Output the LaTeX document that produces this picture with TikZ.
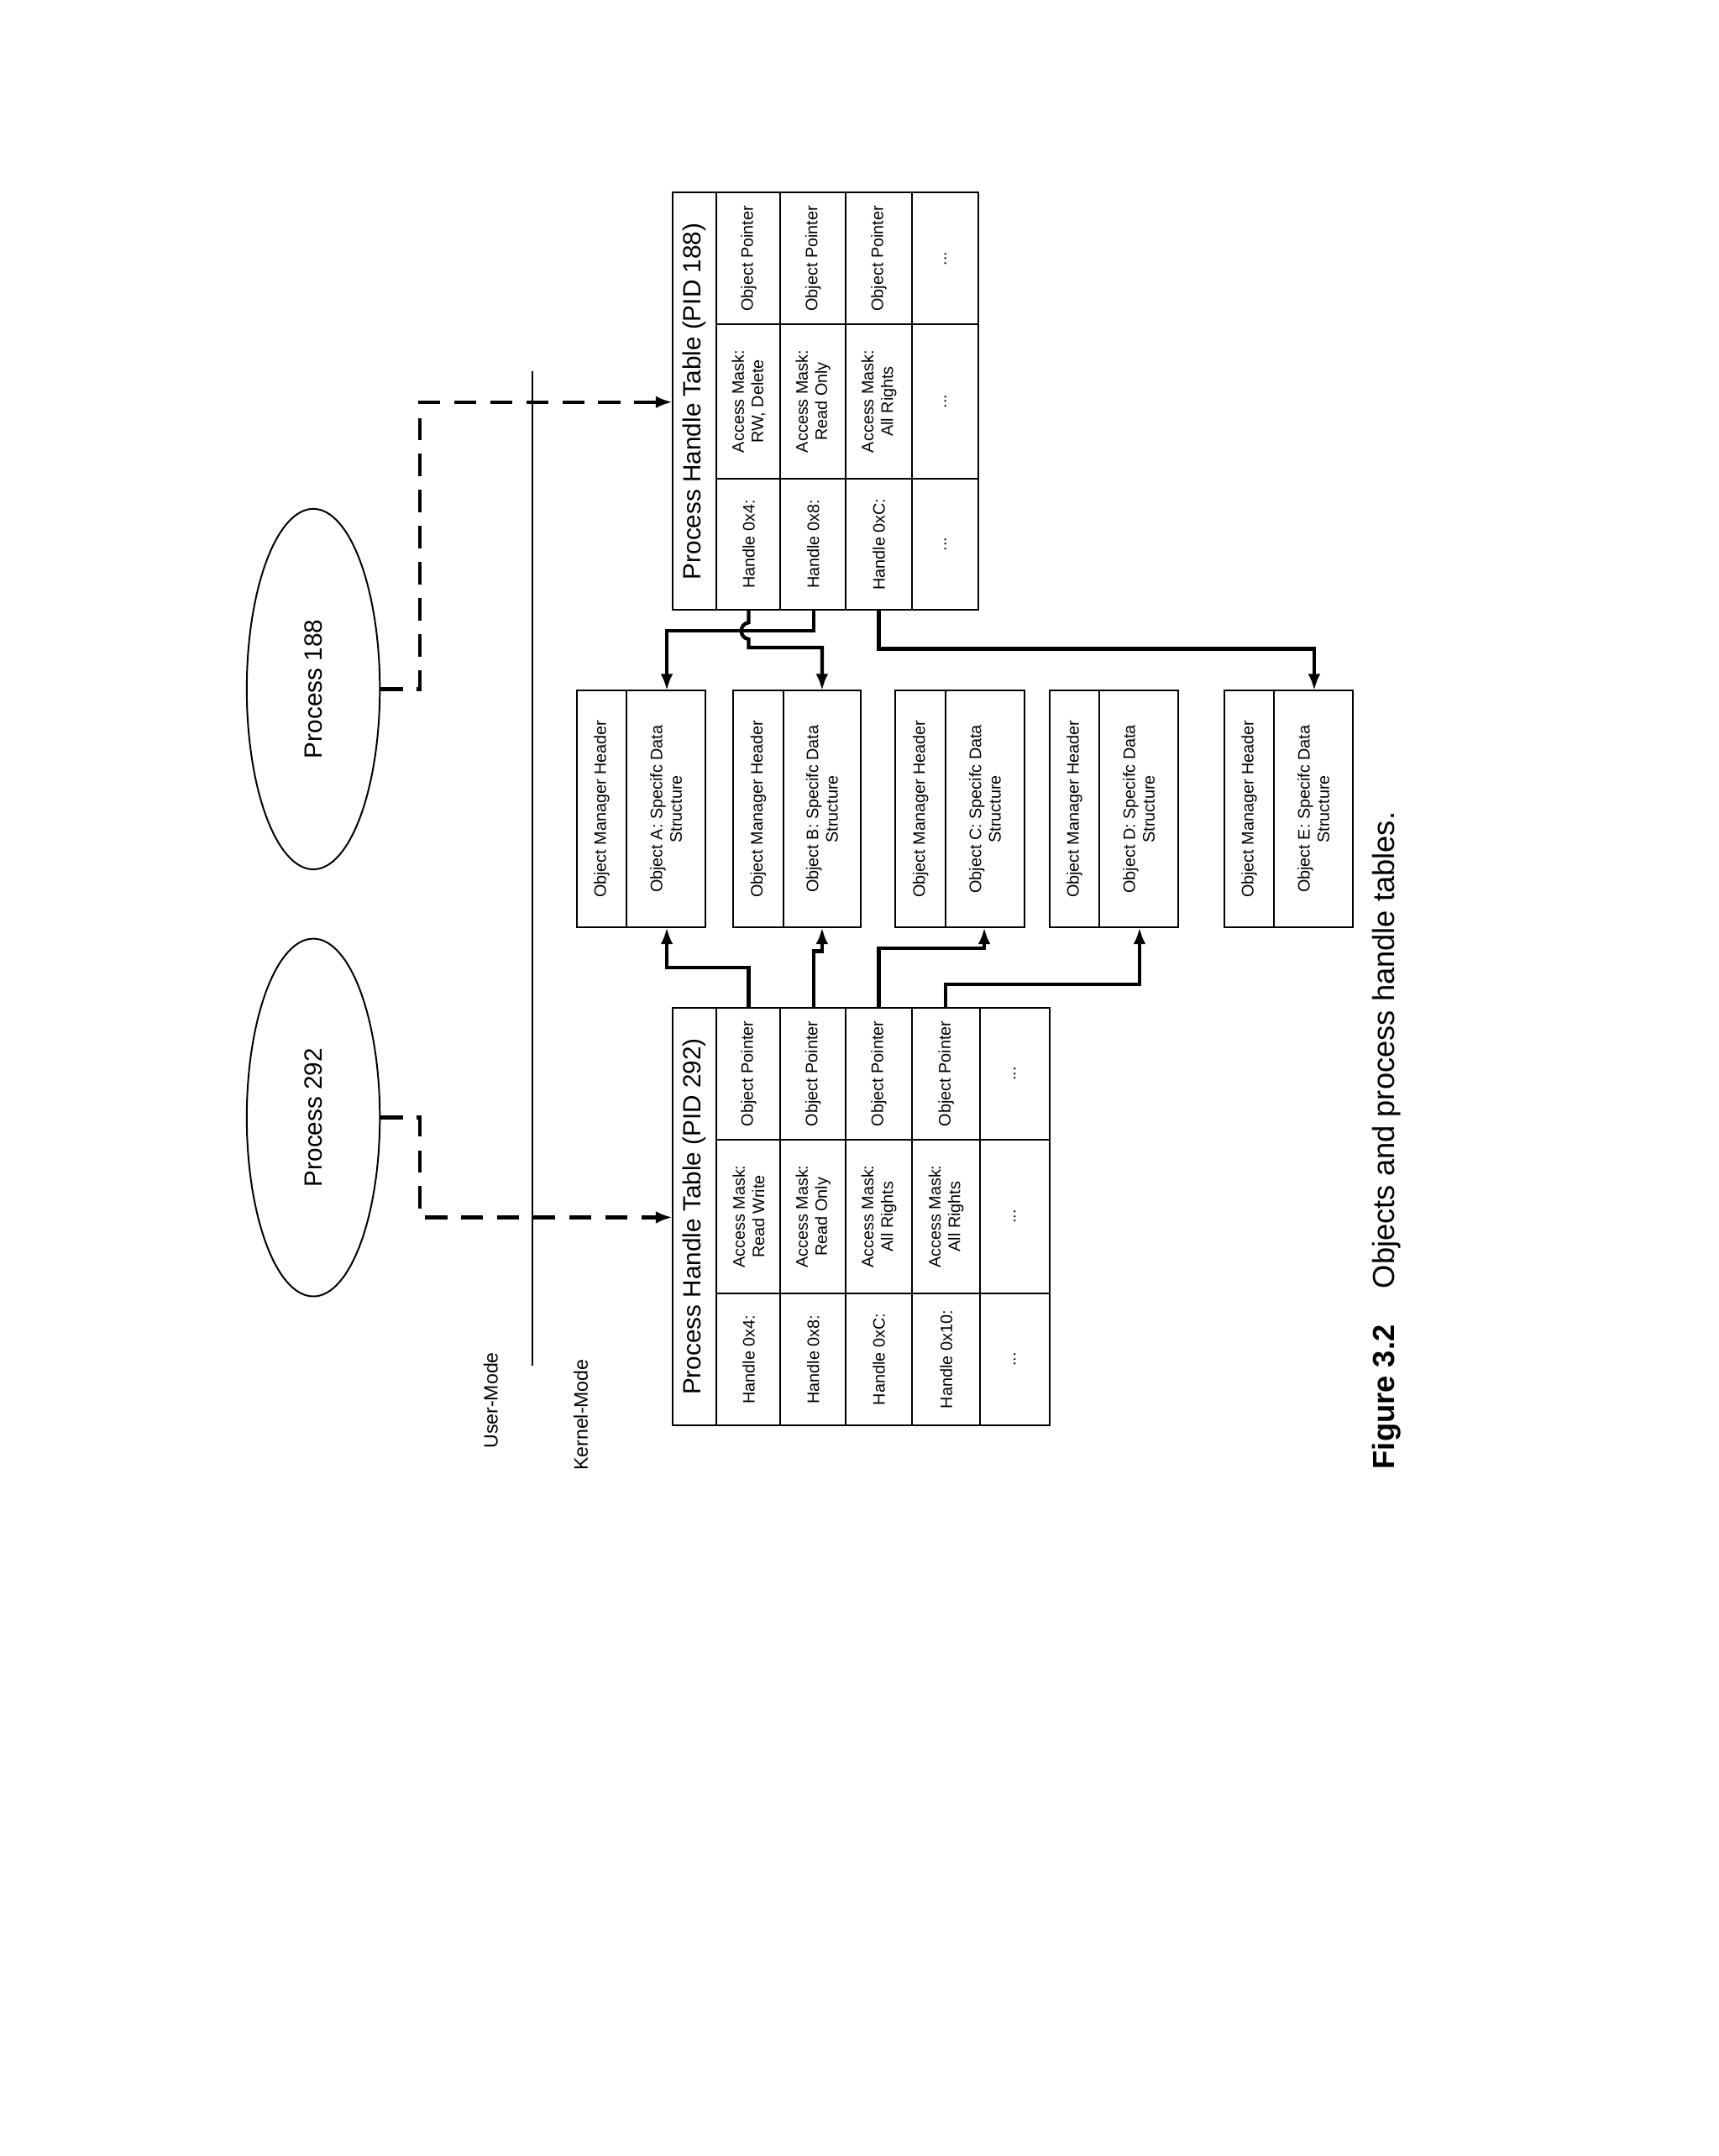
\documentclass[tikz,border=0pt]{standalone}
\usepackage{fontspec}
\setmainfont{Liberation Sans}
\usetikzlibrary{arrows.meta,shapes.geometric}
\begin{document}
\begin{tikzpicture}[x=0.5pt,y=-0.5pt,
  tbl/.style={line width=0.6pt},
  txt/.style={rotate=90,font=\fontsize{6}{7}\selectfont,align=center,inner sep=0},
  hdr/.style={rotate=90,font=\fontsize{9}{10}\selectfont,inner sep=0},
  conn/.style={line width=1.3pt,-{Latex[length=6pt,width=4.5pt]}},
  dashline/.style={line width=1.3pt,dash pattern=on 8pt off 5pt,-{Latex[length=6pt,width=4.5pt]}}]
\useasboundingbox (0,0) rectangle (1240,1555);

% Processes
\node[draw,tbl,ellipse,minimum width=48pt,minimum height=130pt,inner sep=0] (p188) at (226,497) {};
\node[hdr] at (226,497) {Process 188};
\node[draw,tbl,ellipse,minimum width=48pt,minimum height=129pt,inner sep=0] (p292) at (226,806) {};
\node[hdr] at (226,806) {Process 292};

% mode separator
\draw[tbl] (384,268) -- (384,985);
\node[txt,font=\fontsize{7}{8}\selectfont,anchor=east] (um) at (354,975) {User-Mode};
\node[txt,font=\fontsize{7}{8}\selectfont,anchor=east] (km) at (419,980) {Kernel-Mode};

% Table 188
\draw[tbl] (485,139) rectangle (706,440);
\foreach \x in {517,563,610,658} \draw[tbl] (\x,139)--(\x,440);
\draw[tbl] (517,234)--(706,234) (517,345)--(706,345);
\node[hdr] (t188) at (501,289.5) {Process Handle Table (PID 188)};
\node[txt] at (540,186.5) {Object Pointer};
\node[txt] at (586.5,186.5) {Object Pointer};
\node[txt] at (634,186.5) {Object Pointer};
\node[txt] at (682,186.5) {...};
\node[txt] at (540,289.5) {Access Mask:\\RW, Delete};
\node[txt] at (586.5,289.5) {Access Mask:\\Read Only};
\node[txt] at (634,289.5) {Access Mask:\\All Rights};
\node[txt] at (682,289.5) {...};
\node[txt] at (540,392.5) {Handle 0x4:};
\node[txt] at (586.5,392.5) {Handle 0x8:};
\node[txt] at (634,392.5) {Handle 0xC:};
\node[txt] at (682,392.5) {...};

% Table 292
\draw[tbl] (485,727) rectangle (757,1028);
\foreach \x in {517,563,610,658,707} \draw[tbl] (\x,727)--(\x,1028);
\draw[tbl] (517,822)--(757,822) (517,933)--(757,933);
\node[hdr] (t292) at (501,877.5) {Process Handle Table (PID 292)};
\node[txt] at (540,774.5) {Object Pointer};
\node[txt] at (586.5,774.5) {Object Pointer};
\node[txt] at (634,774.5) {Object Pointer};
\node[txt] at (682.5,774.5) {Object Pointer};
\node[txt] at (732,774.5) {...};
\node[txt] at (540,877.5) {Access Mask:\\Read Write};
\node[txt] at (586.5,877.5) {Access Mask:\\Read Only};
\node[txt] at (634,877.5) {Access Mask:\\All Rights};
\node[txt] at (682.5,877.5) {Access Mask:\\All Rights};
\node[txt] at (732,877.5) {...};
\node[txt] at (540,980.5) {Handle 0x4:};
\node[txt] at (586.5,980.5) {Handle 0x8:};
\node[txt] at (634,980.5) {Handle 0xC:};
\node[txt] at (682.5,980.5) {Handle 0x10:};
\node[txt] at (732,980.5) {...};

% Objects
\foreach \n/\a/\m/\b in {A/416/452/509,B/529/565/621,C/646/682/739,D/757/793/850,E/883/919/976}{
  \draw[tbl] (\a,498) rectangle (\b,669);
  \draw[tbl] (\m,498) -- (\m,669);
  \node[txt] at ({(\a+\m)/2},583.5) {Object Manager Header};
  \node[txt] at ({(\m+\b)/2},583.5) {Object \n: Specifc Data\\Structure};
}

% dashed process links
\draw[dashline] (p188.east) -| (303,290) -- (485,290);
\draw[dashline] (p292.east) -| (303,878) -- (485,878);

% 188 connectors
\draw[conn] (587,440) -- (587,455) -- (481,455) -- (481,498);
\draw[conn] (540,440) -- (540,449) .. controls (533,450) and (533,460) .. (540,461) -- (540,467) -- (593,467) -- (593,498);
\draw[conn] (634,440) -- (634,468) -- (948,468) -- (948,498);

% 292 connectors
\draw[conn] (540,727) -- (540,698) -- (481,698) -- (481,669);
\draw[conn] (587,727) -- (587,686) -- (593,686) -- (593,669);
\draw[conn] (634,727) -- (634,684) -- (710,684) -- (710,669);
\draw[conn] (682,727) -- (682,710) -- (822,710) -- (822,669);

% caption
\node[rotate=90,anchor=west,inner sep=0,font=\fontsize{11}{12}\selectfont] (cap) at (1000,1060)
  {\textbf{Figure 3.2}\hspace{1.2em}Objects and process handle tables.};
\end{tikzpicture}
\end{document}
